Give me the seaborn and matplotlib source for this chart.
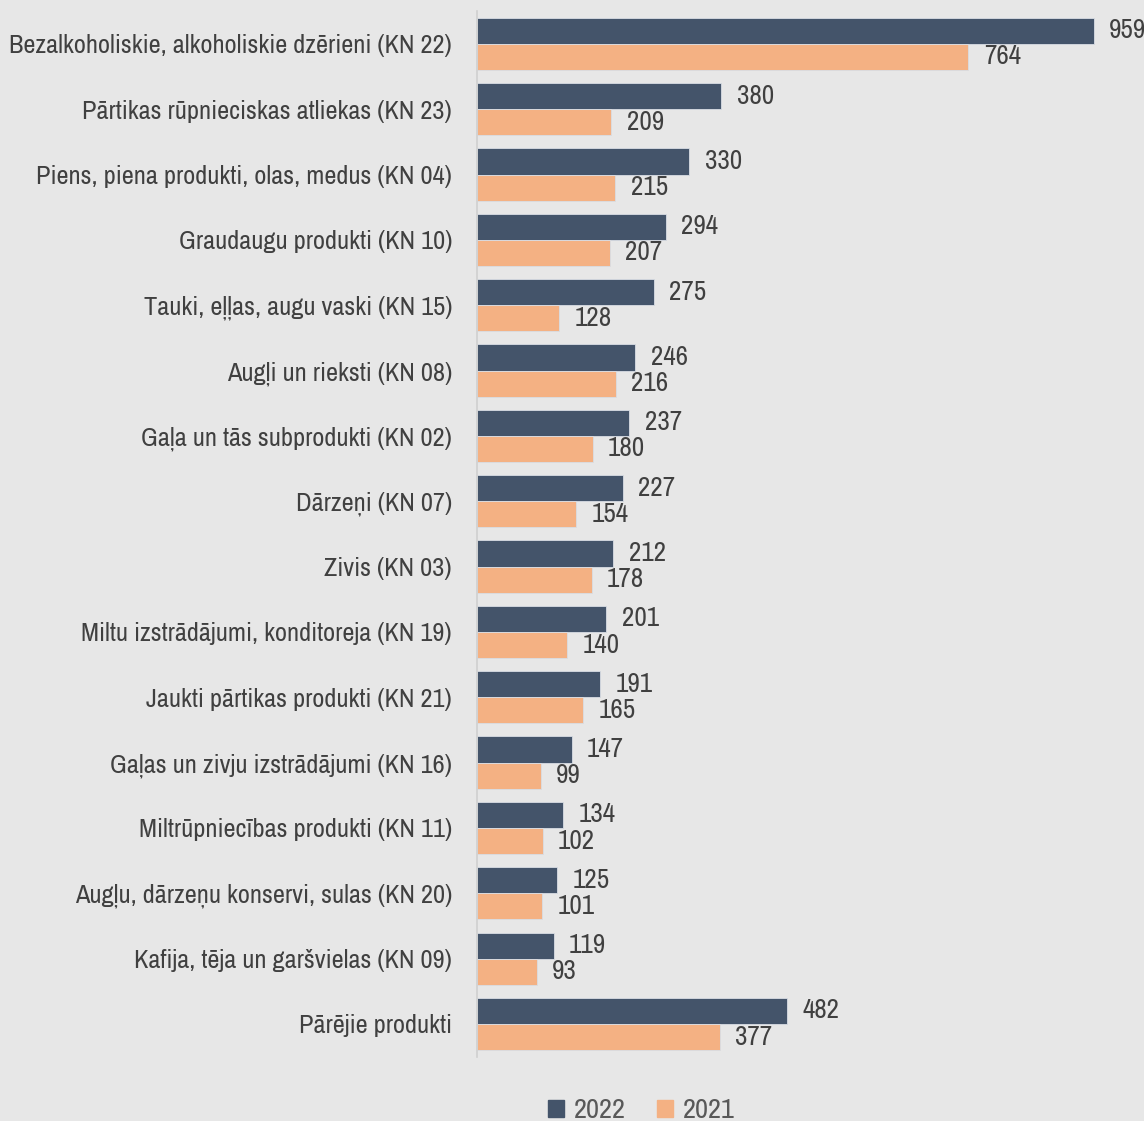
import pandas as pd
import matplotlib.pyplot as plt
import seaborn as sns
from matplotlib import font_manager

# Dati
categories = [
    'Bezalkoholiskie, alkoholiskie dzērieni (KN 22)',
    'Pārtikas rūpnieciskas atliekas (KN 23)',
    'Piens, piena produkti, olas, medus (KN 04)',
    'Graudaugu produkti (KN 10)',
    'Tauki, eļļas, augu vaski (KN 15)',
    'Augļi un rieksti (KN 08)',
    'Gaļa un tās subprodukti (KN 02)',
    'Dārzeņi (KN 07)',
    'Zivis (KN 03)',
    'Miltu izstrādājumi, konditoreja (KN 19)',
    'Jaukti pārtikas produkti (KN 21)',
    'Gaļas un zivju izstrādājumi (KN 16)',
    'Miltrūpniecības produkti (KN 11)',
    'Augļu, dārzeņu konservi, sulas (KN 20)',
    'Kafija, tēja un garšvielas (KN 09)',
    'Pārējie produkti',
]
values_2022 = [959, 380, 330, 294, 275, 246, 237, 227, 212, 201, 191, 147, 134, 125, 119, 482]
values_2021 = [764, 209, 215, 207, 128, 216, 180, 154, 178, 140, 165, 99, 102, 101, 93, 377]
years = ['2022', '2021']
colors = ['#44546a', '#f4b183']

df = pd.concat([
    pd.DataFrame({'cat': categories, 'val': values_2022, 'year': '2022'}),
    pd.DataFrame({'cat': categories, 'val': values_2021, 'year': '2021'}),
], ignore_index=True)

# šaurs fonts (kā Arial Narrow), ja ir pieejams
available = {f.name for f in font_manager.fontManager.ttflist}
narrow = 'DejaVu Sans'
for name in ['Liberation Sans Narrow', 'Arial Narrow', 'Archivo Narrow', 'Roboto Condensed',
             'PT Sans Narrow', 'Pragati Narrow', 'Open Sans Condensed', 'Fira Sans Condensed']:
    if name in available:
        narrow = name
        break

sns.set_theme(style="white")
plt.rcParams['font.family'] = [narrow, 'DejaVu Sans']
bg = '#e7e7e7'
fs = 19

fig = plt.figure(figsize=(11.44, 11.21), dpi=100, facecolor=bg)
ax = fig.add_axes([0.417, 0.0574, 0.583, 0.9326], facecolor=bg)

sns.barplot(data=df, y='cat', x='val', hue='year', hue_order=years,
            order=categories, palette=colors, orient='h', width=0.8,
            saturation=1, ax=ax, legend=False, linewidth=0.6,
            edgecolor='#d8dde4')

for cont in ax.containers:
    ax.bar_label(cont, padding=11, fontsize=fs + 0.5, color='#404040')

ax.set_xlim(0, 1037)
ax.set_xlabel('')
ax.set_ylabel('')
ax.set_xticks([])
ax.tick_params(axis='y', length=0, labelsize=fs, labelcolor='#404040', pad=18)
for s in ['top', 'right', 'bottom']:
    ax.spines[s].set_visible(False)
ax.spines['left'].set_color('#d0d0d0')
ax.spines['left'].set_linewidth(1.2)

handles = [plt.Rectangle((0, 0), 1, 1, color=c) for c in colors]
fig.legend(handles, years, loc='center', bbox_to_anchor=(0.561, 0.009),
           ncol=2, frameon=False, fontsize=fs + 1.5, labelcolor='#595959',
           handlelength=0.55, handleheight=0.55, handletextpad=0.35,
           columnspacing=1.1)

fig.savefig('out.png', dpi=100, facecolor=bg)
